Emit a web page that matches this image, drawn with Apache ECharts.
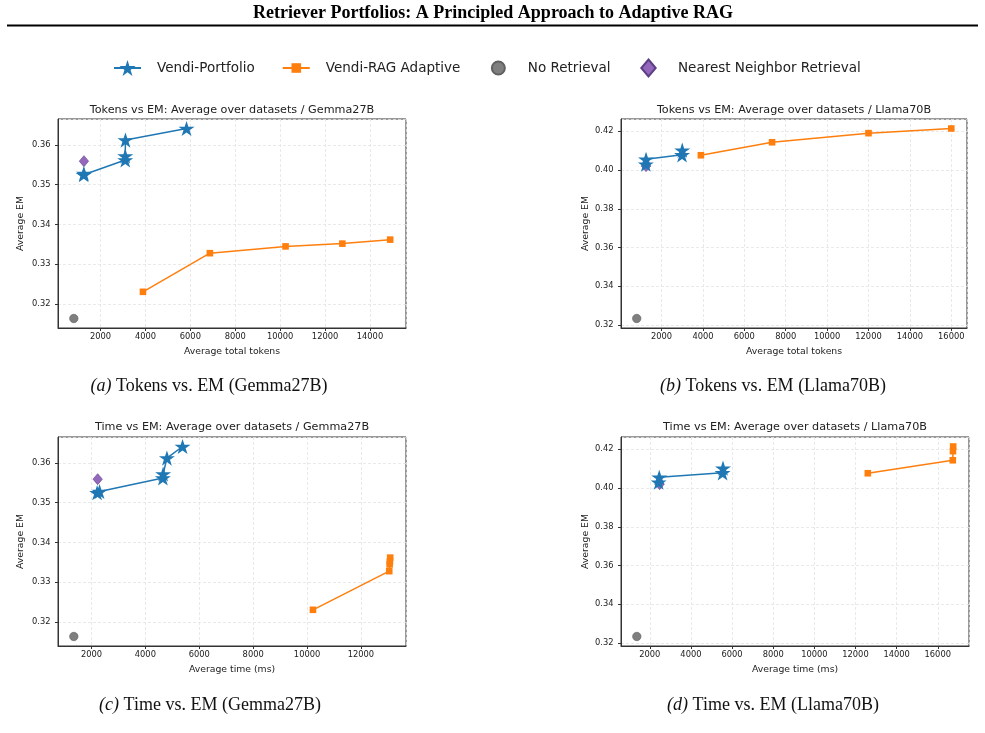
<!DOCTYPE html>
<html><head><meta charset="utf-8">
<script src="https://cdn.jsdelivr.net/npm/echarts@6/dist/echarts.min.js"></script>
<style>html,body{margin:0;padding:0;background:#fff}#c{width:985px;height:733px}</style>
</head><body><div id="c"></div>
<script>
// ---------- data ----------
const seriesNames = ['Vendi-Portfolio', 'Vendi-RAG Adaptive', 'No Retrieval', 'Nearest Neighbor Retrieval'];

// Gemma27B
const gemmaPortfolioTokens = [1250, 1260, 3100, 3100, 3110, 5830];
const gemmaPortfolioTime   = [2210, 2300, 4650, 4660, 4800, 5380];
const gemmaPortfolioEM     = [0.3525, 0.3528, 0.3562, 0.3572, 0.3612, 0.3641];
const gemmaAdaptiveTokens  = [3890, 6870, 10240, 12770, 14900];
const gemmaAdaptiveTime    = [10220, 13050, 13065, 13075, 13085];
const gemmaAdaptiveEM      = [0.3231, 0.3328, 0.3345, 0.3352, 0.3362];
const gemmaNoRetTokens = [810],  gemmaNoRetTime = [1345], gemmaNoRetEM = [0.3164];
const gemmaNNTokens    = [1260], gemmaNNTime    = [2230], gemmaNNEM    = [0.3559];

// Llama70B
const llamaPortfolioTokens = [1240, 1250, 2990, 3000];
const llamaPortfolioTime   = [2430, 2460, 5540, 5560];
const llamaPortfolioEM     = [0.4030, 0.4055, 0.4078, 0.4102];
const llamaAdaptiveTokens  = [3900, 7340, 12000, 16000];
const llamaAdaptiveTime    = [12600, 16730, 16740, 16750];
const llamaAdaptiveEM      = [0.4076, 0.4143, 0.4190, 0.4214];
const llamaNoRetTokens = [800],  llamaNoRetTime = [1370], llamaNoRetEM = [0.3234];
const llamaNNTokens    = [1250], llamaNNTime    = [2480], llamaNNEM    = [0.4020];

const panelTitles = [
  'Tokens vs EM: Average over datasets / Gemma27B',
  'Tokens vs EM: Average over datasets / Llama70B',
  'Time vs EM: Average over datasets / Gemma27B',
  'Time vs EM: Average over datasets / Llama70B'
];
const xNames = ['Average total tokens', 'Average total tokens', 'Average time (ms)', 'Average time (ms)'];
const yName = 'Average EM';
const captions = [
  ['(a)', ' Tokens vs. EM (Gemma27B)'],
  ['(b)', ' Tokens vs. EM (Llama70B)'],
  ['(c)', ' Time vs. EM (Gemma27B)'],
  ['(d)', ' Time vs. EM (Llama70B)']
];
const mainTitle = 'Retriever Portfolios: A Principled Approach to Adaptive RAG';
const xStep = 2000;
const yStepGemma = 0.01, yStepLlama = 0.02;

// ---------- layout ----------
const F = 'DejaVu Sans';
const SERIF = 'Liberation Serif';
const grids = [
  {left: 58,  top: 119, width: 348, height: 209},
  {left: 621, top: 119, width: 346, height: 209},
  {left: 58,  top: 437, width: 348, height: 209},
  {left: 621, top: 437, width: 348, height: 209}
];
// marker shapes (with padded bounding boxes so legend icons get matplotlib-like sizes)
const STAR = 'path://M0,-10L2.245,-3.09L9.511,-3.09L3.633,1.18L5.878,8.09L0,3.82L-5.878,8.09L-3.633,1.18L-9.511,-3.09L-2.245,-3.09Z';
const SQUARE = 'path://M-10,-10M10,10M-6,-6L6,-6L6,6L-6,6Z';
const CIRCLE = 'path://M-10,-10M10,10M-6.5,0A6.5,6.5,0,1,0,6.5,0A6.5,6.5,0,1,0,-6.5,0Z';
const DIAMOND = 'path://M-10,-10M10,10M0,-8.5L7.2,0L0,8.5L-7.2,0Z';

const zip = (a, b) => a.map((v, i) => [v, b[i]]);
const padMin = v => v.min - 0.05 * (v.max - v.min);
const padMax = v => v.max + 0.05 * (v.max - v.min);

const panels = [
  {x: [gemmaPortfolioTokens, gemmaAdaptiveTokens, gemmaNoRetTokens, gemmaNNTokens], y: [gemmaPortfolioEM, gemmaAdaptiveEM, gemmaNoRetEM, gemmaNNEM], ys: yStepGemma},
  {x: [llamaPortfolioTokens, llamaAdaptiveTokens, llamaNoRetTokens, llamaNNTokens], y: [llamaPortfolioEM, llamaAdaptiveEM, llamaNoRetEM, llamaNNEM], ys: yStepLlama},
  {x: [gemmaPortfolioTime, gemmaAdaptiveTime, gemmaNoRetTime, gemmaNNTime], y: [gemmaPortfolioEM, gemmaAdaptiveEM, gemmaNoRetEM, gemmaNNEM], ys: yStepGemma},
  {x: [llamaPortfolioTime, llamaAdaptiveTime, llamaNoRetTime, llamaNNTime], y: [llamaPortfolioEM, llamaAdaptiveEM, llamaNoRetEM, llamaNNEM], ys: yStepLlama}
];

const axisLineStyle = {show: true, onZero: false, lineStyle: {color: '#333', width: 1}};
const splitStyle = {show: true, lineStyle: {color: '#e3e3e3', type: [3, 2], width: 0.8}};

const xAxes = [], yAxes = [], series = [], graphics = [];
panels.forEach((p, gi) => {
  xAxes.push({
    type: 'value', gridIndex: gi, name: xNames[gi], nameLocation: 'middle', nameGap: 19,
    nameTextStyle: {fontSize: 9.3, color: '#222', fontFamily: F},
    min: padMin, max: padMax, minInterval: xStep, maxInterval: xStep,
    axisLine: axisLineStyle,
    axisTick: {show: true, length: 3, lineStyle: {color: '#333'}},
    axisLabel: {fontSize: 8.3, color: '#222', fontFamily: F, margin: 5, showMinLabel: false, showMaxLabel: false, formatter: v => String(v)},
    splitLine: splitStyle
  });
  yAxes.push({
    type: 'value', gridIndex: gi, name: yName, nameLocation: 'middle', nameGap: gi % 2 ? 31 : 33,
    nameTextStyle: {fontSize: 9.3, color: '#222', fontFamily: F},
    min: padMin, max: padMax, minInterval: p.ys, maxInterval: p.ys,
    axisLine: axisLineStyle,
    axisTick: {show: true, length: 3, lineStyle: {color: '#333'}},
    axisLabel: {fontSize: 8.3, color: '#222', fontFamily: F, margin: 7.5, showMinLabel: false, showMaxLabel: false, formatter: v => v.toFixed(2)},
    splitLine: splitStyle
  });
  series.push({
    type: 'line', name: seriesNames[0], xAxisIndex: gi, yAxisIndex: gi, data: zip(p.x[0], p.y[0]),
    symbol: STAR, symbolSize: 16, symbolKeepAspect: true, showAllSymbol: true,
    lineStyle: {color: '#1f77b4', width: 1.5}, itemStyle: {color: '#1f77b4'}, z: 4
  });
  series.push({
    type: 'line', name: seriesNames[1], xAxisIndex: gi, yAxisIndex: gi, data: zip(p.x[1], p.y[1]),
    symbol: SQUARE, symbolSize: 11, symbolKeepAspect: true, showAllSymbol: true,
    lineStyle: {color: '#ff7f0e', width: 1.5}, itemStyle: {color: '#ff7f0e'}, z: 4
  });
  series.push({
    type: 'scatter', name: seriesNames[2], xAxisIndex: gi, yAxisIndex: gi, data: zip(p.x[2], p.y[2]),
    symbol: CIRCLE, symbolSize: 13, symbolKeepAspect: true,
    itemStyle: {color: '#7f7f7f', borderColor: '#606060', borderWidth: 0.6, opacity: 1}, z: 2
  });
  series.push({
    type: 'scatter', name: seriesNames[3], xAxisIndex: gi, yAxisIndex: gi, data: zip(p.x[3], p.y[3]),
    symbol: DIAMOND, symbolSize: 13, symbolKeepAspect: true,
    itemStyle: {color: '#9467bd', borderColor: '#5d3f86', borderWidth: 0.6, opacity: 1}, z: 2
  });
  const g = grids[gi];
  graphics.push({
    type: 'text', x: g.left + g.width / 2, y: gi < 2 ? 110 : 427,
    style: {text: panelTitles[gi], fontSize: 11.2, fontFamily: F, fill: '#222', align: 'center', verticalAlign: 'middle'}
  });
});

const capPos = [[209, 386], [773, 386], [210, 705], [773, 705]];
captions.forEach((c, i) => {
  graphics.push({
    type: 'text', x: capPos[i][0], y: capPos[i][1],
    style: {
      text: '{i|' + c[0] + '}{n|' + c[1] + '}',
      align: 'center', verticalAlign: 'middle',
      rich: {
        i: {fontSize: 18, fontFamily: SERIF, fontStyle: 'italic', fill: '#111'},
        n: {fontSize: 18, fontFamily: SERIF, fill: '#111'}
      }
    }
  });
});
graphics.push({
  type: 'text', x: 493, y: 13,
  style: {text: mainTitle, fontSize: 18, fontWeight: 'bold', fontFamily: SERIF, fill: '#000', align: 'center', verticalAlign: 'middle'}
});
graphics.push({
  type: 'line', shape: {x1: 7, y1: 25.5, x2: 978, y2: 25.5},
  style: {stroke: '#000', lineWidth: 1.8}
});

const chart = echarts.init(document.getElementById('c'), null, {renderer: 'canvas'});
chart.setOption({
  animation: false,
  backgroundColor: '#fff',
  grid: grids.map(g => Object.assign({show: true, borderColor: '#333', borderWidth: 1, backgroundColor: 'transparent', containLabel: false}, g)),
  xAxis: xAxes,
  yAxis: yAxes,
  legend: {
    top: 57, left: 113, padding: 0, itemWidth: 27, itemHeight: 20, itemGap: 27,
    textStyle: {fontSize: 13.5, fontFamily: F, color: '#222', padding: [0, 0, 0, 11]},
    data: seriesNames
  },
  series: series,
  graphic: graphics
});
</script>
</body></html>
